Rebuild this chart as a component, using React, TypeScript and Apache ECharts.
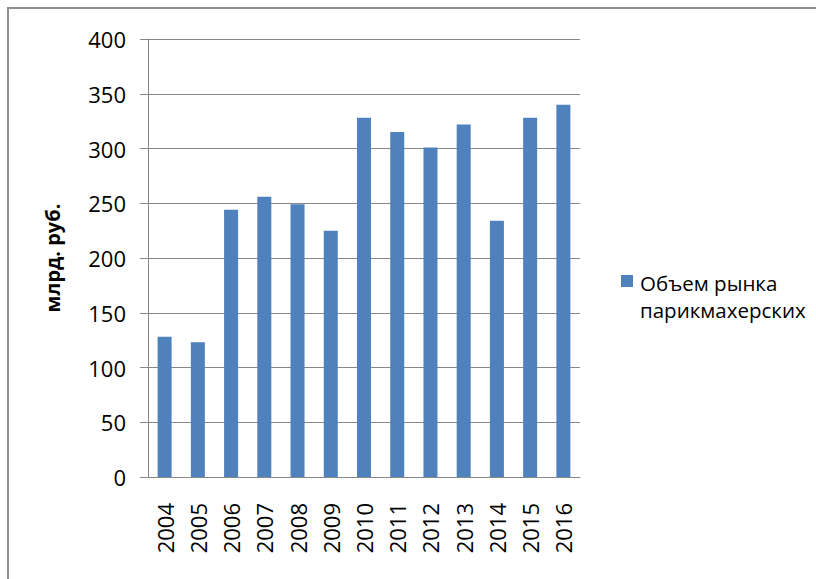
import React, { useEffect, useRef } from "react";
import * as echarts from "echarts";

// Hair salon market volume, billion rubles, by year
const years = ["2004", "2005", "2006", "2007", "2008", "2009", "2010", "2011", "2012", "2013", "2014", "2015", "2016"];
const marketVolume = [128, 123, 244, 256, 249, 225, 328, 315, 301, 322, 234, 328, 340];
const seriesName = "Объем рынка парикмахерских";
const legendLines = ["Объем рынка", "парикмахерских"];
const yAxisTitle = "млрд. руб.";
const yMin = 0;
const yMax = 400;
const yStep = 50;

const FONT = "'Open Sans', 'Noto Sans', sans-serif";
const BAR_COLOR = "#4F81BD";
const GRID_COLOR = "#878787";

export default function App() {
  const ref = useRef<HTMLDivElement>(null);

  useEffect(() => {
    if (!ref.current) return;
    const chart = echarts.init(ref.current, undefined, { renderer: "svg" });
    chart.setOption({
      animation: false,
      backgroundColor: "#ffffff",
      grid: { left: 148, top: 39, width: 432, height: 438, containLabel: false },
      xAxis: {
        type: "category",
        data: years,
        axisLine: { show: true, lineStyle: { color: GRID_COLOR, width: 1 } },
        axisTick: { show: false },
        axisLabel: {
          rotate: 90,
          margin: 26,
          fontSize: 22,
          color: "#000",
          fontFamily: FONT,
          interval: 0,
        },
      },
      yAxis: {
        type: "value",
        min: yMin,
        max: yMax,
        interval: yStep,
        name: yAxisTitle,
        nameLocation: "middle",
        nameGap: 86,
        nameTextStyle: { fontSize: 20, fontWeight: "bold", color: "#000", fontFamily: FONT },
        axisLine: { show: true, lineStyle: { color: GRID_COLOR, width: 1 } },
        axisTick: { show: true, inside: false, length: 8, lineStyle: { color: GRID_COLOR } },
        splitLine: { show: true, lineStyle: { color: GRID_COLOR, width: 1 } },
        axisLabel: { fontSize: 22, margin: 22, color: "#000", fontFamily: FONT },
      },
      series: [
        {
          name: seriesName,
          type: "bar",
          data: marketVolume,
          barWidth: 14,
          itemStyle: { color: BAR_COLOR },
        },
      ],
      graphic: [
        {
          type: "rect",
          shape: { x: 8, y: 8, width: 900, height: 700 },
          style: { fill: "none", stroke: "#8f8f8f", lineWidth: 2 },
          silent: true,
        },
        // legend: marker and two-line series label
        {
          type: "rect",
          shape: { x: 621, y: 275, width: 12, height: 12 },
          style: { fill: BAR_COLOR },
        },
        {
          type: "text",
          x: 640,
          y: 269.5,
          style: {
            text: legendLines.join("\n"),
            fontSize: 20.5,
            lineHeight: 27,
            fontFamily: FONT,
            fill: "#000",
            verticalAlign: "top",
          },
        },
      ],
    });
    return () => chart.dispose();
  }, []);

  return (
    <div
      ref={ref}
      style={{ position: "fixed", left: 0, top: 0, width: 816, height: 579, background: "#fff" }}
    />
  );
}
